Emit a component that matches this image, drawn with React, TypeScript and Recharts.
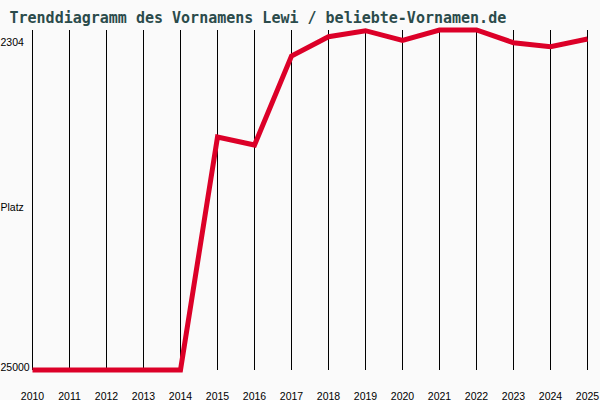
import React from "react";
import { LineChart, Line, XAxis, YAxis, CartesianGrid, Label } from "recharts";

const years = [2010, 2011, 2012, 2013, 2014, 2015, 2016, 2017, 2018, 2019, 2020, 2021, 2022, 2023, 2024, 2025];
const ranks = [25000, 25000, 25000, 25000, 25000, 9447, 9981, 4040, 2751, 2351, 3005, 2304, 2304, 3152, 3419, 2905];
const yTicks = [2304, 25000];
const titleText = "Trenddiagramm des Vornamens Lewi / beliebte-Vornamen.de";
const yLabel = "Platz";

const data = years.map((year, i) => ({ year, rank: ranks[i] }));

const tickFont = "'Liberation Sans', Arial, sans-serif";

const XTick = (props: any) => {
  const { x, y, payload } = props;
  return (
    <text x={x} y={y + 21.5} textAnchor="middle" fontFamily={tickFont} fontSize={10.5} fill="#000">
      {payload.value}
    </text>
  );
};

const YTick = (props: any) => {
  const { y, payload } = props;
  const isTop = payload.value === yTicks[0];
  return (
    <text x={0.5} y={isTop ? y + 16 : y + 1} textAnchor="start" fontFamily={tickFont} fontSize={10.5} fill="#000">
      {payload.value}
    </text>
  );
};

export default function App() {
  return (
    <div style={{ position: "absolute", left: 0, top: 0, width: 600, height: 400, background: "#fafafa" }}>
      <svg width={600} height={30} style={{ position: "absolute", left: 0, top: 0 }}>
        <text x={9.5} y={23} fontFamily="'DejaVu Sans Mono', monospace" fontWeight="bold" fontSize={15} fill="#2b4b4b">
          {titleText}
        </text>
      </svg>
      <LineChart
        width={600}
        height={400}
        data={data}
        margin={{ top: 30, right: 12.5, bottom: 0, left: 0.5 }}
        style={{ position: "absolute", left: 0, top: 0 }}
      >
        <CartesianGrid vertical={true} horizontal={false} stroke="#000" strokeWidth={1} strokeOpacity={1} />
        <XAxis
          dataKey="year"
          type="number"
          domain={[2010, 2025]}
          ticks={years}
          interval={0}
          axisLine={false}
          tickLine={false}
          height={30}
          tick={<XTick />}
        />
        <YAxis
          type="number"
          domain={[2304, 25000]}
          reversed={true}
          ticks={yTicks}
          interval={0}
          axisLine={false}
          tickLine={false}
          width={32}
          tick={<YTick />}
        >
          <Label
            content={() => (
              <text x={0.5} y={211} fontFamily={tickFont} fontSize={10.5} fill="#000">
                {yLabel}
              </text>
            )}
          />
        </YAxis>
        <Line
          type="linear"
          dataKey="rank"
          stroke="#dc0028"
          strokeWidth={5}
          dot={false}
          isAnimationActive={false}
        />
      </LineChart>
    </div>
  );
}
